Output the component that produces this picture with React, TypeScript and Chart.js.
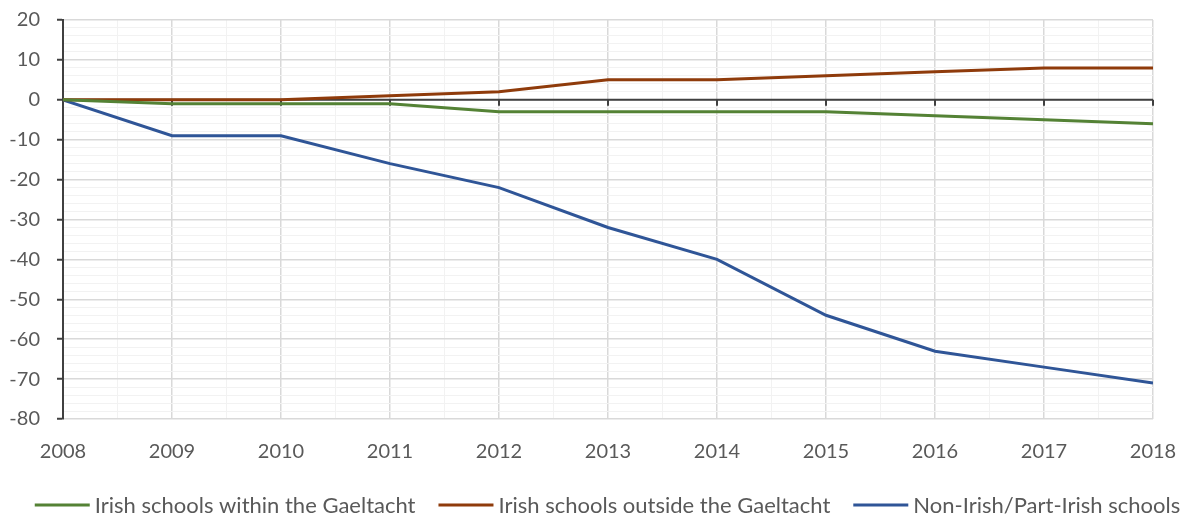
import React, { useEffect, useRef } from "react";
import { Chart, registerables } from "chart.js";

Chart.register(...registerables);

const years = [2008, 2009, 2010, 2011, 2012, 2013, 2014, 2015, 2016, 2017, 2018];
const withinGaeltacht = [0, -1, -1, -1, -3, -3, -3, -3, -4, -5, -6];
const outsideGaeltacht = [0, 0, 0, 1, 2, 5, 5, 6, 7, 8, 8];
const nonIrish = [0, -9, -9, -16, -22, -32, -40, -54, -63, -67, -71];
const seriesNames = [
  "Irish schools within the Gaeltacht",
  "Irish schools outside the Gaeltacht",
  "Non-Irish/Part-Irish schools",
];
const seriesColors = ["#548235", "#8f3b0b", "#2f5597"];

const FONT = "Lato";
const TEXT = "#595959";
const AXIS = "#404040";

const zeroAxis = {
  id: "zeroAxis",
  beforeDatasetsDraw(chart: any) {
    const { ctx, chartArea, scales } = chart;
    const x = scales.x;
    const y = scales.y;
    const y0 = y.getPixelForValue(0);
    ctx.save();
    ctx.strokeStyle = AXIS;
    ctx.lineWidth = 2;
    ctx.beginPath();
    ctx.moveTo(chartArea.left, y0);
    ctx.lineTo(chartArea.right, y0);
    for (const yr of years) {
      const px = x.getPixelForValue(yr);
      ctx.moveTo(px, y0);
      ctx.lineTo(px, y0 + 6);
    }
    ctx.stroke();
    ctx.restore();
  },
};

const bottomLegend = {
  id: "bottomLegend",
  afterDraw(chart: any) {
    const { ctx } = chart;
    const lineLen = 55;
    const gapText = 5;
    const gapItem = 23;
    const centerX = 599.5;
    const cy = 497;
    ctx.save();
    ctx.font = `22px ${FONT}`;
    ctx.textBaseline = "middle";
    ctx.textAlign = "left";
    const items = chart.data.datasets.map((d: any) => ({
      text: d.label as string,
      color: d.borderColor as string,
      w: ctx.measureText(d.label).width,
    }));
    const total =
      items.reduce((s: number, it: any) => s + lineLen + gapText + it.w, 0) +
      gapItem * (items.length - 1);
    let x = centerX - total / 2;
    for (const it of items) {
      ctx.strokeStyle = it.color;
      ctx.lineWidth = 3;
      ctx.beginPath();
      ctx.moveTo(x, cy);
      ctx.lineTo(x + lineLen, cy);
      ctx.stroke();
      x += lineLen + gapText;
      ctx.fillStyle = TEXT;
      ctx.fillText(it.text, x, cy + 1);
      x += it.w + gapItem;
    }
    ctx.restore();
  },
};

const zeroPad = (s: any) => {
  s.paddingLeft = 0;
  s.paddingRight = 0;
  s.paddingTop = 0;
  s.paddingBottom = 0;
};

export default function App() {
  const ref = useRef<HTMLCanvasElement>(null);
  useEffect(() => {
    if (!ref.current) return;
    const mk = (vals: number[]) => years.map((yr, i) => ({ x: yr, y: vals[i] }));
    const all = [withinGaeltacht, outsideGaeltacht, nonIrish];
    const chart = new Chart(ref.current, {
      type: "line",
      data: {
        datasets: all.map((vals, i) => ({
          label: seriesNames[i],
          data: mk(vals),
          borderColor: seriesColors[i],
          backgroundColor: seriesColors[i],
          borderWidth: 3,
          pointRadius: 0,
          tension: 0,
          fill: false,
        })),
      },
      options: {
        animation: false,
        responsive: true,
        maintainAspectRatio: false,
        layout: { padding: { left: 0, right: 27, top: 12, bottom: 40 } },
        plugins: {
          tooltip: { enabled: false },
          legend: { display: false },
        },
        scales: {
          x: {
            type: "linear",
            min: 2008,
            max: 2018,
            afterFit: (s: any) => {
              s.height = 57;
              zeroPad(s);
            },
            border: { display: false },
            grid: {
              drawTicks: false,
              color: (c: any) => (Number.isInteger(c.tick?.value) ? "#d9d9d9" : "#f2f2f2"),
              lineWidth: (c: any) => (Number.isInteger(c.tick?.value) ? 1.5 : 1),
            },
            ticks: {
              stepSize: 0.5,
              autoSkip: false,
              maxRotation: 0,
              padding: 21,
              color: TEXT,
              font: { family: FONT, size: 20 },
              callback: (v: any) => (Number.isInteger(v) ? String(v) : ""),
            },
          },
          y: {
            min: -80,
            max: 20,
            afterFit: (s: any) => {
              s.width = 55;
              zeroPad(s);
            },
            border: { display: true, color: AXIS, width: 2 },
            grid: {
              tickLength: 6,
              tickWidth: 2,
              tickColor: (c: any) => (c.tick && c.tick.value % 10 === 0 ? AXIS : "rgba(0,0,0,0)"),
              color: (c: any) => (c.tick && c.tick.value % 10 === 0 ? "#d9d9d9" : "#f2f2f2"),
              lineWidth: (c: any) => (c.tick && c.tick.value % 10 === 0 ? 1.5 : 1),
            },
            ticks: {
              stepSize: 2,
              autoSkip: false,
              padding: 17,
              color: TEXT,
              font: { family: FONT, size: 20 },
              callback: (v: any) => (v % 10 === 0 ? String(v) : ""),
            },
          },
        },
      },
      plugins: [zeroAxis, bottomLegend],
    });
    return () => chart.destroy();
  }, []);
  return (
    <div style={{ width: 1172, height: 508, position: "relative" }}>
      <canvas ref={ref} />
    </div>
  );
}
